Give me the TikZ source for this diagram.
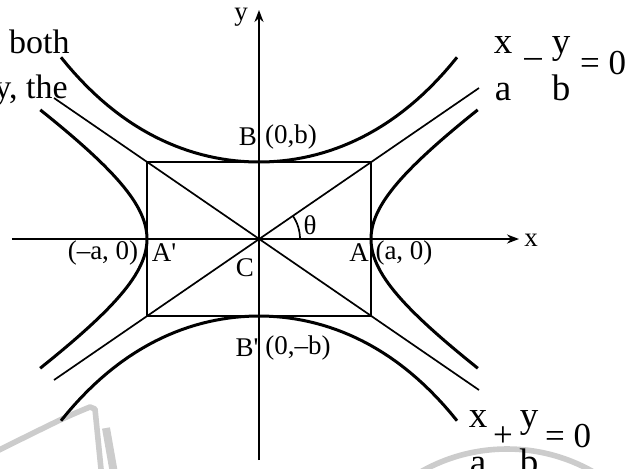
\documentclass[tikz,border=0pt]{standalone}
\usepackage{fontspec}
\setmainfont{Liberation Serif}
\usetikzlibrary{arrows.meta, calc}

\tikzset{
  branch/.style={line width=1.5pt},
  guide/.style={line width=0.85pt},
  axis/.style={line width=1pt, -{Stealth[length=6pt,width=4.5pt]}},
  lbl/.style={font=\fontsize{13.5}{15}\selectfont, inner sep=0pt},
  eqletter/.style={font=\fontsize{18.5}{20}\selectfont, inner sep=0pt, anchor=base},
  eqop/.style={font=\fontsize{17.5}{19}\selectfont, inner sep=0pt},
  pagetext/.style={font=\fontsize{17}{20}\selectfont, inner sep=0pt, anchor=base east},
  wmark/.style={gray!40, line width=2.8pt, line join=round}
}

\begin{document}
\begin{tikzpicture}[x=0.5pt, y=0.5pt]
  \useasboundingbox (-259,-229) rectangle (377,239);

  % watermark and page text
  \draw[wmark] plot[smooth] coordinates {(-262,-212) (-199,-181) (-169,-168)}
    -- (-164,-170) -- (-157,-240);
  \draw[wmark, line width=4pt] (-153,-189) -- (-144,-240);
  \draw[wmark] (248,-384) circle (174);
  \node[pagetext] (both) at (-189,186) {both};
  \node[pagetext] (the) at (-191,141) {y, the};

  \coordinate (C) at (0,0);
  \coordinate (xl) at (-247,0);
  \coordinate (xr) at (260,0);
  \coordinate (yb) at (0,-221);
  \coordinate (yt) at (0,229);
  \coordinate (ul) at (-205,141);
  \coordinate (ur) at (220,151);
  \coordinate (ll) at (-205,-141);
  \coordinate (lr) at (220,-151);

  % box, asymptotes, axes
  \draw[guide] (-112,-77) rectangle (112,77);
  \draw[guide] (ul) -- (lr);
  \draw[guide] (ll) -- (ur);
  \draw[axis] (xl) -- (xr);
  \draw[axis] (yb) -- (yt);
  \draw[guide] (41,0) arc[start angle=0, end angle=34.5, radius=41];

  % the two hyperbolas
  \draw[branch] plot[domain=-1.29:1.29, samples=60] ({112*cosh(\x)}, {77*sinh(\x)});
  \draw[branch] plot[domain=-1.29:1.29, samples=60] ({-112*cosh(\x)}, {77*sinh(\x)});
  \draw[branch] plot[domain=-198:198, samples=60] (\x, {77*cosh(\x/131.7)});
  \draw[branch] plot[domain=-198:198, samples=60] (\x, {-77*cosh(\x/131.7)});

  \node[lbl] (ylab) at (-18,222) {y};
  \node[lbl] (xlab) at (272,-1) {x};
  \node[lbl] (B) at (-11,102) {B};
  \node[lbl] (Bc) at (32,102) {(0,b)};
  \node[lbl] (B1) at (-12,-109) {B\textquotesingle};
  \node[lbl] (B1c) at (39,-109) {(0,–b)};
  \node[lbl] (A1c) at (-156,-14) {(–a, 0)};
  \node[lbl] (A1) at (-95,-14) {A\textquotesingle};
  \node[lbl] (Clab) at (-14,-29) {C};
  \node[lbl] (theta) at (51,14) {θ};
  \node[lbl] (A) at (100,-14) {A};
  \node[lbl] (Ac) at (145,-14) {(a, 0)};

  % asymptote equations
  \node[eqletter] (ex1) at (244,186) {x};
  \node[eqletter] (ea1) at (244,139) {a};
  \node[eqop] (em1) at (274,176) {–};
  \node[eqletter] (ey1) at (302,186) {y};
  \node[eqletter] (eb1) at (302,139) {b};
  \node[eqop, anchor=base] (ez1) at (344,165) {= 0};

  \node[eqletter] (ex2) at (219,-188) {x};
  \node[eqletter] (ea2) at (219,-235) {a};
  \node[eqop] (ep2) at (244,-198) {+};
  \node[eqletter] (ey2) at (270,-188) {y};
  \node[eqletter] (eb2) at (270,-235) {b};
  \node[eqop, anchor=base] (ez2) at (309,-208) {= 0};
\end{tikzpicture}
\end{document}
